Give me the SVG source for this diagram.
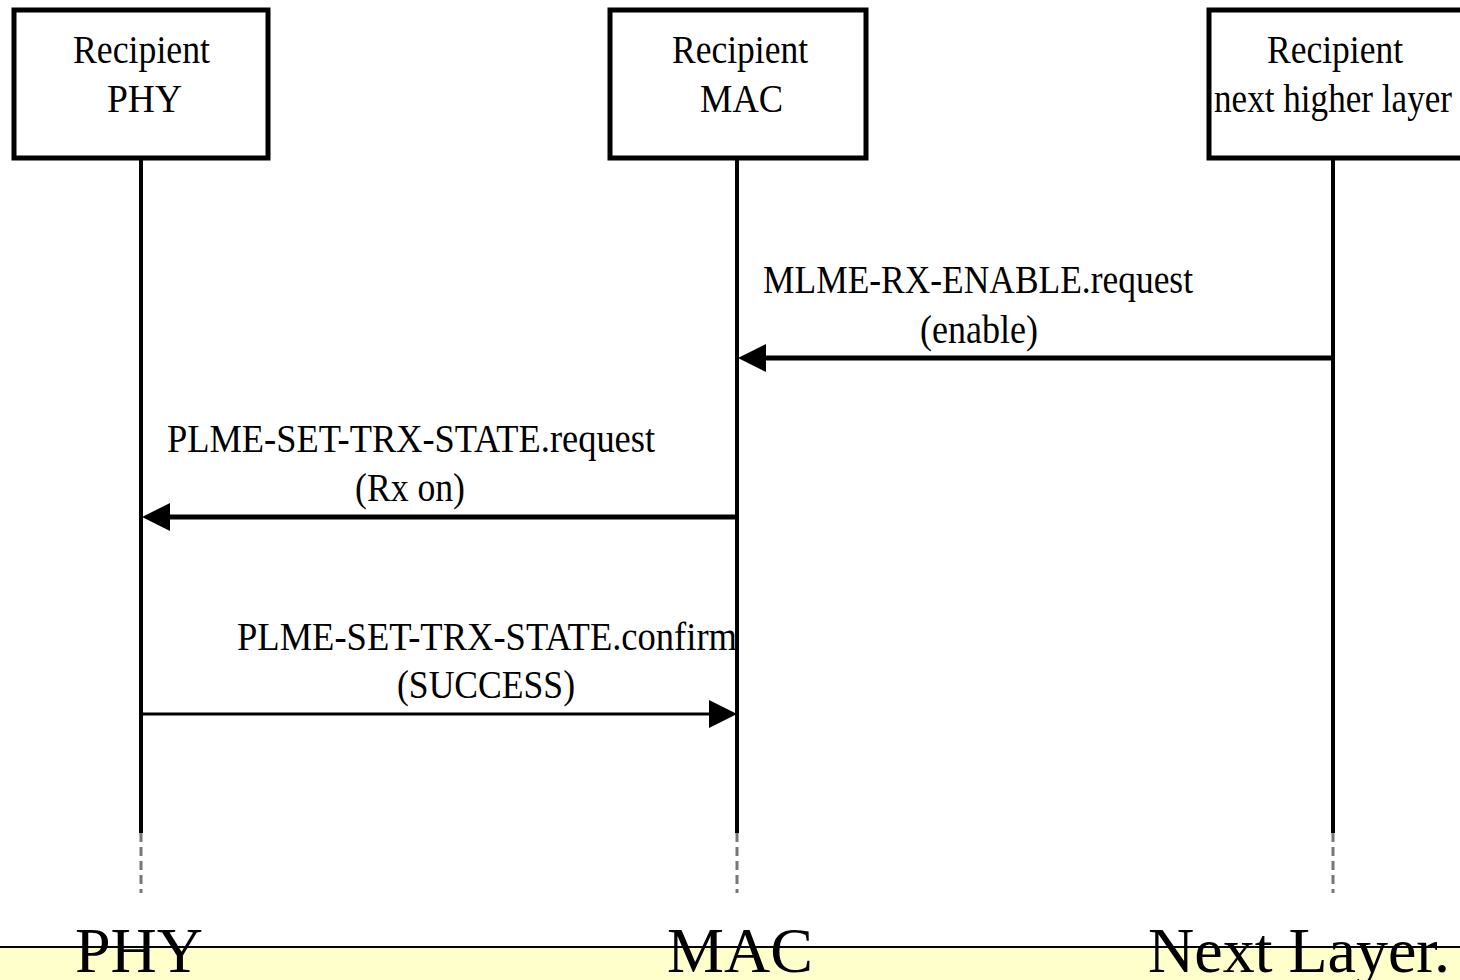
<svg xmlns="http://www.w3.org/2000/svg" width="1460" height="980" viewBox="0 0 1460 980">
<style>
.box{fill:#fff;stroke:#000;stroke-width:5}
.life{stroke:#000;stroke-width:4;fill:none}
.dash{stroke:#777;stroke-width:3;stroke-dasharray:9 5;fill:none}
.msg{stroke:#000;fill:none}
.t{font-family:"Liberation Serif","Times New Roman",serif;font-size:40px;fill:#000}
.big{font-family:"Liberation Serif","Times New Roman",serif;font-size:64px;fill:#000}
</style>
<defs>
<marker id="ah" markerUnits="userSpaceOnUse" markerWidth="28" markerHeight="28" refX="0" refY="14" orient="auto" viewBox="0 0 28 28">
<path d="M0,0 L28,14 L0,28 z" fill="#000"/>
</marker>
</defs>
<rect x="0" y="0" width="1460" height="980" fill="#fff"/>
<rect x="0" y="947" width="1460" height="33" fill="#FFFFCC"/>
<line x1="0" y1="947" x2="1460" y2="947" stroke="#000" stroke-width="2"/>
<g id="lifelines">
<line class="life" x1="141" y1="160" x2="141" y2="833"/>
<line class="dash" x1="141" y1="833" x2="141" y2="893"/>
<line class="life" x1="737" y1="160" x2="737" y2="833"/>
<line class="dash" x1="737" y1="833" x2="737" y2="893"/>
<line class="life" x1="1333" y1="160" x2="1333" y2="833"/>
<line class="dash" x1="1333" y1="833" x2="1333" y2="893"/>
</g>
<g id="node-phy">
<rect class="box" x="14" y="10" width="254" height="148"/>
<text class="t" x="73" y="63" textLength="137" lengthAdjust="spacingAndGlyphs">Recipient</text>
<text class="t" x="107" y="112" textLength="75" lengthAdjust="spacingAndGlyphs">PHY</text>
</g>
<g id="node-mac">
<rect class="box" x="610" y="10" width="256" height="148"/>
<text class="t" x="672" y="63" textLength="136" lengthAdjust="spacingAndGlyphs">Recipient</text>
<text class="t" x="700" y="112" textLength="83" lengthAdjust="spacingAndGlyphs">MAC</text>
</g>
<g id="node-nhl">
<path class="box" d="M1465,10 H1209 V158 H1465"/>
<text class="t" x="1267" y="63" textLength="136" lengthAdjust="spacingAndGlyphs">Recipient</text>
<text class="t" x="1214" y="112" textLength="238" lengthAdjust="spacingAndGlyphs">next higher layer</text>
</g>
<g id="connectors">
<line class="msg" stroke-width="5" x1="1333" y1="358" x2="766" y2="358" marker-end="url(#ah)"/>
<line class="msg" stroke-width="5" x1="737" y1="517" x2="170" y2="517" marker-end="url(#ah)"/>
<line class="msg" stroke-width="3" x1="141" y1="714" x2="709" y2="714" marker-end="url(#ah)"/>
<text class="t" x="763" y="293" textLength="430" lengthAdjust="spacingAndGlyphs">MLME-RX-ENABLE.request</text>
<text class="t" x="920" y="343" textLength="118" lengthAdjust="spacingAndGlyphs">(enable)</text>
<text class="t" x="167" y="452" textLength="488" lengthAdjust="spacingAndGlyphs">PLME-SET-TRX-STATE.request</text>
<text class="t" x="355" y="501" textLength="110" lengthAdjust="spacingAndGlyphs">(Rx on)</text>
<text class="t" x="237" y="650" textLength="500" lengthAdjust="spacingAndGlyphs">PLME-SET-TRX-STATE.confirm</text>
<text class="t" x="397" y="698" textLength="178" lengthAdjust="spacingAndGlyphs">(SUCCESS)</text>
</g>
<g id="footer">
<text class="big" x="75" y="972">PHY</text>
<text class="big" x="667" y="972">MAC</text>
<text class="big" x="1148" y="972">Next Layer.</text>
</g>
</svg>
